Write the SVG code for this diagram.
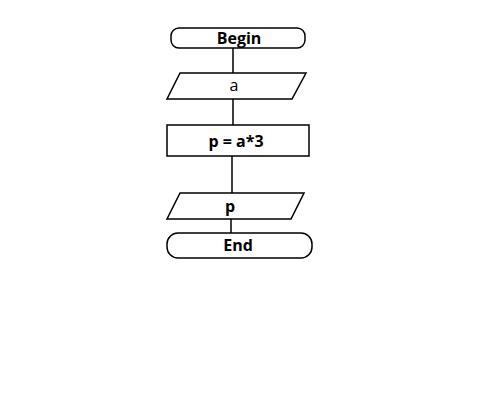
<svg xmlns="http://www.w3.org/2000/svg" width="500" height="400" viewBox="0 0 500 400">
<style>
.s{fill:#fff;stroke:#000;stroke-width:1.5}
.c{stroke:#000;stroke-width:1.5;fill:none}
.t{font-family:"Open Sans","Liberation Sans",sans-serif;font-size:16px;text-anchor:middle;fill:#000}
.b{font-weight:bold}
</style>
<rect width="500" height="400" fill="#fff"/>
<g id="connectors">
<line class="c" x1="233" y1="48" x2="233" y2="73"/>
<line class="c" x1="233" y1="99" x2="233" y2="125"/>
<line class="c" x1="232" y1="156" x2="232" y2="193"/>
<line class="c" x1="231" y1="219" x2="231" y2="233"/>
</g>
<g id="begin">
<rect class="s" x="171" y="28" width="134" height="20" rx="8"/>
<text class="t b" x="239" y="44">Begin</text>
</g>
<g id="input_a">
<polygon class="s" points="180,73 306,73 292,99 167,99"/>
<text class="t" x="234" y="91">a</text>
</g>
<g id="process">
<rect class="s" x="167" y="125" width="142" height="31"/>
<text class="t b" x="236" y="147">p = a*3</text>
</g>
<g id="output_p">
<polygon class="s" points="180,193 304,193 291,219 167,219"/>
<text class="t b" x="230" y="212">p</text>
</g>
<g id="end">
<rect class="s" x="167" y="233" width="145" height="25" rx="11"/>
<text class="t b" x="238" y="251">End</text>
</g>
</svg>
